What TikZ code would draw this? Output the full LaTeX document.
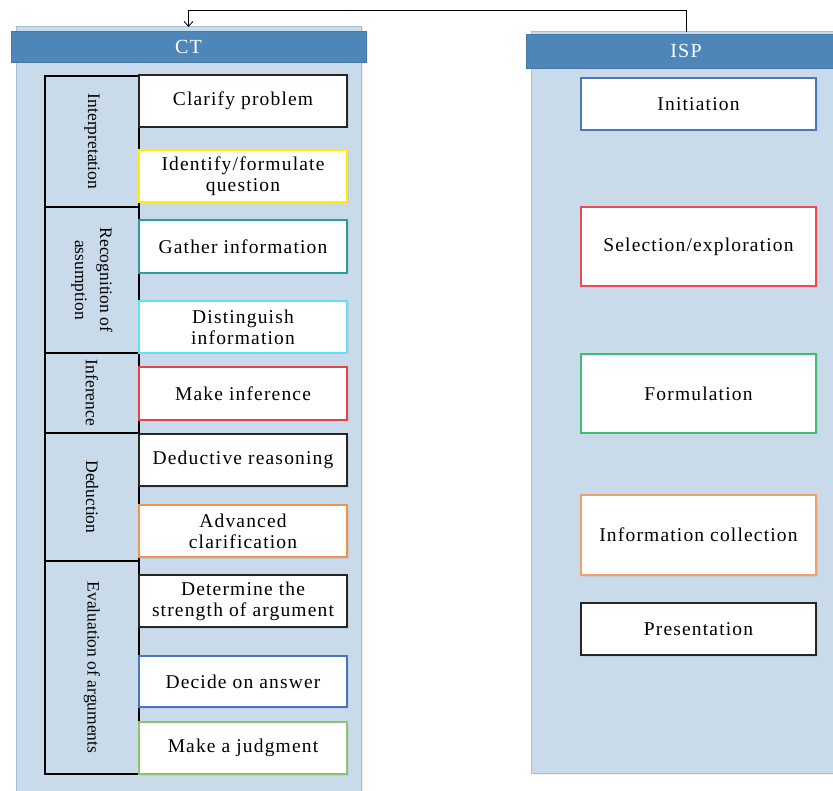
\documentclass[tikz,border=0pt]{standalone}
\usepackage{fontspec}
\setmainfont{Liberation Serif}
\newfontfamily\boxfam[LetterSpace=6]{Liberation Serif}
\usetikzlibrary{shadows,arrows.meta}
\definecolor{panelfill}{HTML}{C9DBEA}
\definecolor{paneledge}{HTML}{A3BFD9}
\definecolor{headfill}{HTML}{4F86BA}
\definecolor{cBlack}{HTML}{262626}
\definecolor{cYellow}{HTML}{FFEE00}
\definecolor{cTeal}{HTML}{2E9C9C}
\definecolor{cCyan}{HTML}{5EE4F0}
\definecolor{cRed}{HTML}{E8404C}
\definecolor{cOrange}{HTML}{F4914A}
\definecolor{cBlue}{HTML}{4A74C8}
\definecolor{cLGreen}{HTML}{8EC46C}
\definecolor{cIBlue}{HTML}{4A78B8}
\definecolor{cSRed}{HTML}{F04A50}
\definecolor{cGreen}{HTML}{3DBE72}
\definecolor{cPeach}{HTML}{F2A06A}
\tikzset{
  panel/.style={draw=paneledge, fill=panelfill, line width=1pt, inner sep=0pt, outer sep=0pt,
    drop shadow={opacity=0.12, shadow xshift=1.5pt, shadow yshift=-1.5pt}},
  header/.style={draw=headfill!90!black, fill=headfill, line width=0.6pt, inner sep=0pt, outer sep=0pt,
    text=white, font=\boxfam\fontsize{20}{22}\selectfont,
    drop shadow={opacity=0.15, shadow xshift=1.5pt, shadow yshift=-1.5pt}},
  cell/.style={draw=black, fill=panelfill, line width=1.2pt, inner sep=0pt, outer sep=0pt, minimum width=94pt},
  lab/.style={rotate=-90, inner sep=0pt, align=center, font=\fontsize{17.5}{25}\selectfont},
  cbox/.style={draw=#1, fill=white, line width=1.1pt, inner sep=0pt, outer sep=0pt, align=center,
    font=\boxfam\fontsize{19.5}{21}\selectfont, minimum width=208pt,
    drop shadow={opacity=0.15, shadow xshift=1.5pt, shadow yshift=-1.5pt}},
  ibox/.style={cbox=#1, minimum width=235pt},
  link/.style={draw=black, line width=0.8pt}
}
\begin{document}
\begin{tikzpicture}[x=1pt,y=-1pt]
\useasboundingbox (0,0) rectangle (833,791);

% panels
\node[panel, minimum width=345pt, minimum height=766pt] (ctPanel) at (188.5,410) {};
\node[panel, minimum width=310pt, minimum height=741pt] (ispPanel) at (686,402.5) {};
\node[header, minimum width=355pt, minimum height=31pt] (ctHead) at (188.5,46.5) {CT};
\node[header, minimum width=320pt, minimum height=34pt] (ispHead) at (686,51) {ISP};

% connector
\draw[link, -{Straight Barb[length=5pt,width=9pt]}] (ispPanel.north) -- ++(0,-22) -| (ctPanel.north);

% left column cells
\node[cell, minimum height=131pt] (interp) at (92,141.5) {};
\node[cell, minimum height=146pt] (recog) at (92,280) {};
\node[cell, minimum height=80pt] (infer) at (92,393) {};
\node[cell, minimum height=128pt] (deduc) at (92,497) {};
\node[cell, minimum height=213pt] (evalu) at (92,667.5) {};
\node[lab] (interpL) at (interp) {Interpretation};
\node[lab] (recogL) at (recog) {Recognition of\\assumption};
\node[lab] (inferL) at (infer) {Inference};
\node[lab] (deducL) at (deduc) {Deduction};
\node[lab] (evaluL) at (evalu) {Evaluation of arguments};

% CT boxes
\node[cbox=cBlack, minimum height=52pt] (clarify) at (243,101) {Clarify problem};
\node[cbox=cYellow, minimum height=52pt] (identify) at (243,176) {Identify/formulate\\question};
\node[cbox=cTeal, minimum height=53pt] (gather) at (243,246.5) {Gather information};
\node[cbox=cCyan, minimum height=52pt] (disting) at (243,327) {Distinguish\\information};
\node[cbox=cRed, minimum height=53pt] (makeinf) at (243,393.5) {Make inference};
\node[cbox=cBlack, minimum height=52pt] (deductive) at (243,460) {Deductive reasoning};
\node[cbox=cOrange, minimum height=52pt] (advanced) at (243,531) {Advanced\\clarification};
\node[cbox=cBlack, minimum height=52pt] (determine) at (243,601) {Determine the\\strength of argument};
\node[cbox=cBlue, minimum height=51pt] (decide) at (243,681.5) {Decide on answer};
\node[cbox=cLGreen, minimum height=52pt] (judgment) at (243,748) {Make a judgment};

% ISP boxes
\node[ibox=cIBlue, minimum height=52pt] (initiation) at (698.5,104) {Initiation};
\node[ibox=cSRed, minimum height=79pt] (selection) at (698.5,246.5) {Selection/exploration};
\node[ibox=cGreen, minimum height=79pt] (formulation) at (698.5,393.5) {Formulation};
\node[ibox=cPeach, minimum height=80pt] (infocoll) at (698.5,535) {Information collection};
\node[ibox=cBlack, minimum height=52pt] (presentation) at (698.5,629) {Presentation};
\end{tikzpicture}
\end{document}
